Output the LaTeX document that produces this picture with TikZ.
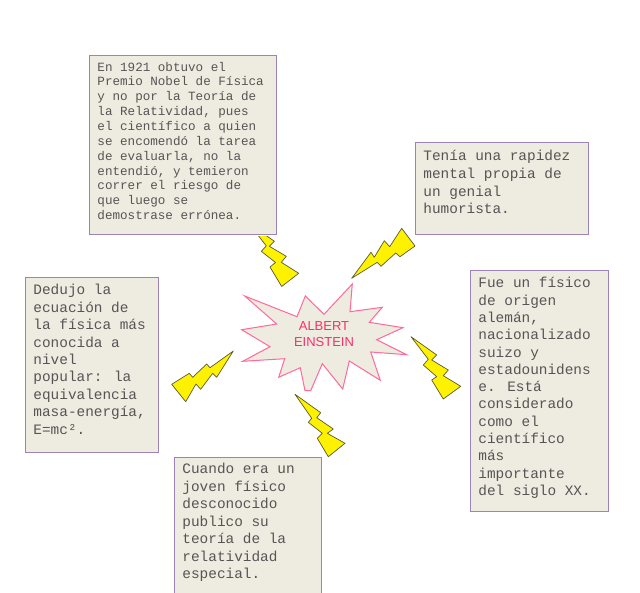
\documentclass[tikz,border=0pt]{standalone}
\usepackage{fontspec}
\setmainfont{Liberation Mono}
\newfontfamily\titlefont{Liberation Sans}
\definecolor{boxfill}{HTML}{EEEBE0}
\definecolor{boxline}{HTML}{9C84B8}
\definecolor{boltline}{HTML}{5A5A30}
\definecolor{starline}{HTML}{FF6A98}
\definecolor{titlecol}{HTML}{F5306E}
\definecolor{txt}{HTML}{555555}
\tikzset{
  infobox/.style={draw=boxline,fill=boxfill,line width=0.9pt,inner sep=0pt,anchor=north west,text=txt},
  bolt/.style={draw=boltline,fill=yellow,line width=0.7pt,line join=round},
  burst/.style={draw=starline,fill=boxfill,line width=1pt,line join=miter},
}
% name, x, y, w, h, size, leading, top pad, lines
\newcommand{\infonode}[9]{%
  \node[infobox,minimum width=#4pt,minimum height=#5pt] (#1) at (#2,#3)
   {\begin{minipage}[c][#5pt][t]{\dimexpr#4pt-16pt\relax}\fontsize{#6}{#7}\selectfont\raggedright\vspace*{#8pt}#9\end{minipage}};}
\begin{document}
\begin{tikzpicture}[x=1pt,y=-1pt]
\useasboundingbox (0,0) rectangle (640,593);
% bolts
\begin{scope}
\clip (240,236.3) rectangle (310,300);
\draw[bolt] (248.7,223.3) -- (274.4,241.3) -- (269.4,246.3) -- (286.3,256.3) -- (281.3,262.3) -- (298.7,273.3) -- (281.7,286.5) -- (270,267) -- (275.5,262.5) -- (261.3,251.3) -- (266.3,245.9) -- cycle;
\end{scope}
\draw[bolt] (351.7,278.3) -- (371,252.3) -- (374.3,257.3) -- (384.3,240.7) -- (389.7,246.7) -- (401.7,228.3) -- (415,246) -- (400,256.7) -- (395.7,253) -- (381,266.3) -- (377.3,262.3) -- cycle;
\draw[bolt] (411,336.7) -- (436.7,355) -- (431.7,360) -- (448.3,370) -- (443.3,375.7) -- (460.7,386.3) -- (443.3,399) -- (431.7,380) -- (436.7,376.7) -- (423.3,365) -- (428.3,359.3) -- cycle;
\draw[bolt] (295,394.3) -- (320.7,412.7) -- (316.7,417.7) -- (333.3,429) -- (327.3,433.3) -- (345,443.3) -- (328.3,456.7) -- (317.3,438.3) -- (322.3,433.3) -- (308.3,422.3) -- (311.7,418.3) -- cycle;
\draw[bolt] (233.3,351) -- (216.7,377.3) -- (212.7,373.3) -- (200.7,389.3) -- (196,384) -- (185.7,401.7) -- (171.7,384.3) -- (189.3,373.3) -- (192.7,377.3) -- (206.7,364) -- (210,367.7) -- cycle;
% burst
\draw[burst] (352.3,284) -- (350,311.7) -- (382.3,307.3) -- (369.3,322.3) -- (403,327.7) -- (376.7,339.7) -- (406.7,354.7) -- (370.7,352) -- (380.3,380.3) -- (349.3,361) -- (342.7,389) -- (322.3,363.7) -- (310.7,390.7) -- (305,390.7) -- (300.3,367.7) -- (278.7,377.3) -- (284.7,358.7) -- (242.7,361.3) -- (270,346.7) -- (241.7,329.7) -- (276.7,324) -- (244.7,296) -- (297,316.7) -- (305.3,296) -- (324,314.3) -- cycle;
\node[text=titlecol,align=center,inner sep=0pt,font=\titlefont\fontsize{13}{16}\selectfont] (einstein) at (324,334.3) {ALBERT\\EINSTEIN};
% boxes
\infonode{nobel}{89}{55}{187}{179}{12.6}{14.85}{6.5}{En 1921 obtuvo el\\Premio Nobel de Física\\y no por la Teoría de\\la Relatividad, pues\\el científico a quien\\se encomendó la tarea\\de evaluarla, no la\\entendió, y temieron\\correr el riesgo de\\que luego se\\demostrase errónea.}
\infonode{humor}{415}{142}{173}{92}{14.4}{17.6}{8}{Tenía una rapidez\\mental propia de\\un genial\\humorista.}
\infonode{ecuacion}{25}{277}{133}{175}{14.4}{17.4}{7}{Dedujo la\\ecuación de\\la física más\\conocida a\\nivel\\popular: la\\equivalencia\\masa-energía,\\E=mc².}
\infonode{fisico}{470}{270}{138}{241}{14.4}{17.3}{7}{Fue un físico\\de origen\\alemán,\\nacionalizado\\suizo y\\estadounidens\\e. Está\\considerado\\como el\\científico\\más\\importante\\del siglo XX.}
\infonode{joven}{174}{457}{147}{142}{14.4}{17.5}{6}{Cuando era un\\joven físico\\desconocido\\publico su\\teoría de la\\relatividad\\especial.}
\end{tikzpicture}
\end{document}
